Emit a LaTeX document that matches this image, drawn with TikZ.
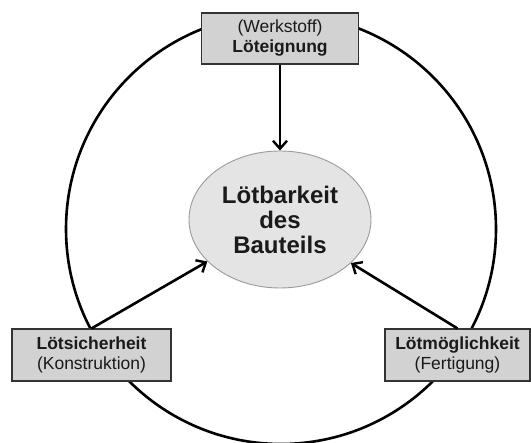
\documentclass[tikz,border=0pt]{standalone}
\usepackage{fontspec}
\setmainfont{Liberation Sans}
\usetikzlibrary{arrows.meta,shapes.geometric}
\definecolor{boxfill}{HTML}{D2D2D2}
\definecolor{ellfill}{HTML}{E4E4E4}
\definecolor{ellline}{HTML}{9A9A9A}
\definecolor{txt}{HTML}{1A1A1A}
\tikzset{
  labelbox/.style={draw=black!80, line width=1.1pt, fill=boxfill, rectangle,
    inner sep=0pt, align=center, text=txt,
    font=\fontsize{17.5}{20}\selectfont},
  centre/.style={ellipse, draw=ellline, line width=0.9pt, fill=ellfill,
    minimum width=182pt, minimum height=137pt, inner sep=0pt, align=center,
    text=txt, font=\fontsize{24}{25}\selectfont\bfseries},
  ring/.style={line width=2.6pt, black},
  conn/.style={line width=2.6pt, black, -{Straight Barb[length=8pt,width=14pt,line width=2.4pt]}}
}
\begin{document}
\begin{tikzpicture}[x=1pt,y=-1pt]
\useasboundingbox (0,0) rectangle (531,443);
\draw[ring] (281,229) circle[radius=215];
\node[centre] (ell) at (280,219.5) {Lötbarkeit\\des\\Bauteils};
\node[labelbox, minimum width=157pt, minimum height=51pt] (top) at (280,38.5)
  {(Werkstoff)\\\textbf{Löteignung}};
\node[labelbox, minimum width=159pt, minimum height=52pt] (left) at (91.5,355)
  {\textbf{Lötsicherheit}\\(Konstruktion)};
\node[labelbox, minimum width=145pt, minimum height=52pt] (right) at (457.5,355)
  {\textbf{Lötmöglichkeit}\\(Fertigung)};
\draw[conn] (top.south) -- (ell.north);
\draw[conn] (left.north) -- (ell);
\draw[conn] (right.north) -- (ell);
\end{tikzpicture}
\end{document}
